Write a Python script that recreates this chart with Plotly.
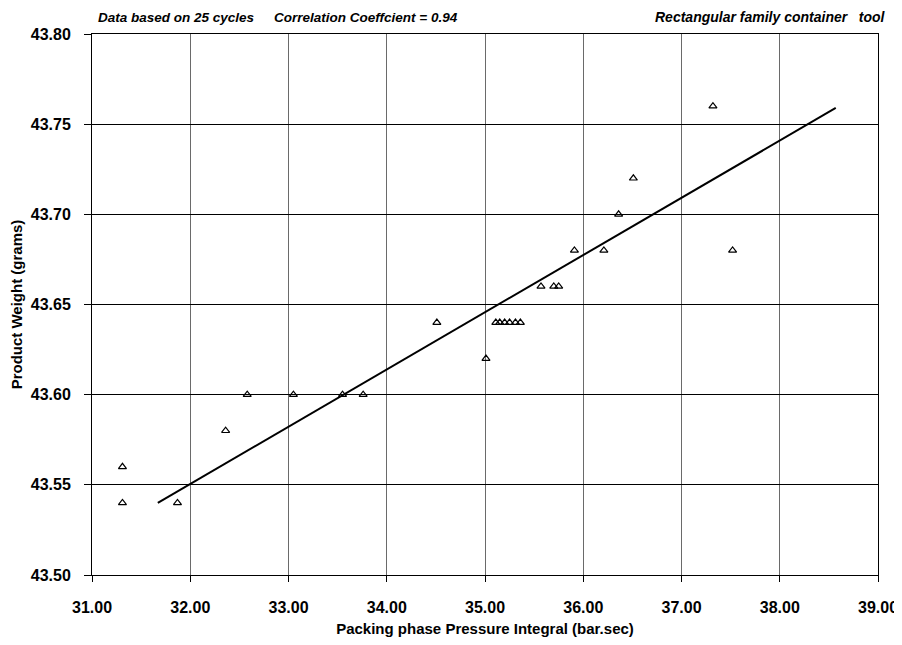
import plotly.graph_objects as go

# Data
pressure_integral = [31.31, 31.31, 31.87, 32.36, 32.58, 33.05, 33.55, 33.76,
                     34.51, 35.01, 35.11, 35.15, 35.20, 35.25, 35.31, 35.36,
                     35.57, 35.70, 35.75, 35.91, 36.21, 36.36, 36.51, 37.32, 37.52]
product_weight = [43.56, 43.54, 43.54, 43.58, 43.60, 43.60, 43.60, 43.60,
                  43.64, 43.62, 43.64, 43.64, 43.64, 43.64, 43.64, 43.64,
                  43.66, 43.66, 43.66, 43.68, 43.68, 43.70, 43.72, 43.76, 43.68]

fit_x = [31.67, 38.57]
fit_y = [43.540, 43.759]

x_ticks = [31, 32, 33, 34, 35, 36, 37, 38, 39]
x_tick_labels = ["31.00", "32.00", "33.00", "34.00", "35.00", "36.00", "37.00", "38.00", "39.00"]
y_ticks = [43.50, 43.55, 43.60, 43.65, 43.70, 43.75, 43.80]
y_tick_labels = ["43.50", "43.55", "43.60", "43.65", "43.70", "43.75", "43.80"]

FONT = "Liberation Sans, Arial, sans-serif"

fig = go.Figure()
fig.add_trace(go.Scatter(
    x=pressure_integral, y=product_weight, mode="markers",
    marker=dict(symbol="triangle-up-open", size=7, color="black",
                line=dict(width=1.2, color="black")),
    showlegend=False, hoverinfo="x+y"))
fig.add_trace(go.Scatter(
    x=fit_x, y=fit_y, mode="lines",
    line=dict(color="black", width=2), showlegend=False))

# page body has an 8px margin, so the figure is offset by 8px
W, H = 894, 629
L, T = 84, 26
pw, ph = 786, 541
R = W - L - pw
B = H - T - ph

fig.update_layout(
    width=W, height=H,
    margin=dict(l=L, r=R, t=T, b=B, pad=0, autoexpand=False),
    paper_bgcolor="white", plot_bgcolor="white",
    font=dict(family=FONT, color="black"),
    xaxis=dict(
        range=[31, 39], tickmode="array", tickvals=x_ticks, ticktext=x_tick_labels,
        showgrid=True, gridcolor="#6a6a6a", gridwidth=1,
        showline=True, linecolor="black", linewidth=1, mirror=True,
        ticks="outside", ticklen=6, tickcolor="black", ticklabelstandoff=12,
        ticklabeloverflow="allow",
        tickfont=dict(family=FONT, size=16, color="black", weight="bold"),
        title=dict(text="<b>Packing phase Pressure Integral (bar.sec)</b>",
                   font=dict(family=FONT, size=15, color="black"), standoff=8),
        zeroline=False, fixedrange=True),
    yaxis=dict(
        range=[43.50, 43.80], tickmode="array", tickvals=y_ticks, ticktext=y_tick_labels,
        showgrid=True, gridcolor="black", gridwidth=1,
        showline=True, linecolor="black", linewidth=1, mirror=True,
        ticks="outside", ticklen=7, tickcolor="black", ticklabelstandoff=10,
        tickfont=dict(family=FONT, size=16, color="black", weight="bold"),
        title=dict(text="<b>Product Weight (grams)</b>",
                   font=dict(family=FONT, size=15, color="black"), standoff=6),
        zeroline=False, fixedrange=True),
)

def px_x(p):
    return (p - 8 - L) / pw

def px_y(p):
    return (H - B - (p - 8)) / ph

ann_font = dict(family=FONT, size=13.5, color="black")
fig.add_annotation(text="<b><i>Data based on 25 cycles</i></b>", xref="paper", yref="paper",
                   x=px_x(96), y=px_y(17), xanchor="left", yanchor="middle",
                   showarrow=False, font=ann_font)
fig.add_annotation(text="<b><i>Correlation Coeffcient = 0.94</i></b>", xref="paper", yref="paper",
                   x=px_x(272), y=px_y(17), xanchor="left", yanchor="middle",
                   showarrow=False, font=ann_font)
fig.add_annotation(text="<b><i>Rectangular family container&nbsp;&nbsp; tool</i></b>",
                   xref="paper", yref="paper",
                   x=px_x(888), y=px_y(17), xanchor="right", yanchor="middle",
                   showarrow=False, font=dict(family=FONT, size=14, color="black"))

fig.write_html("out.html")
